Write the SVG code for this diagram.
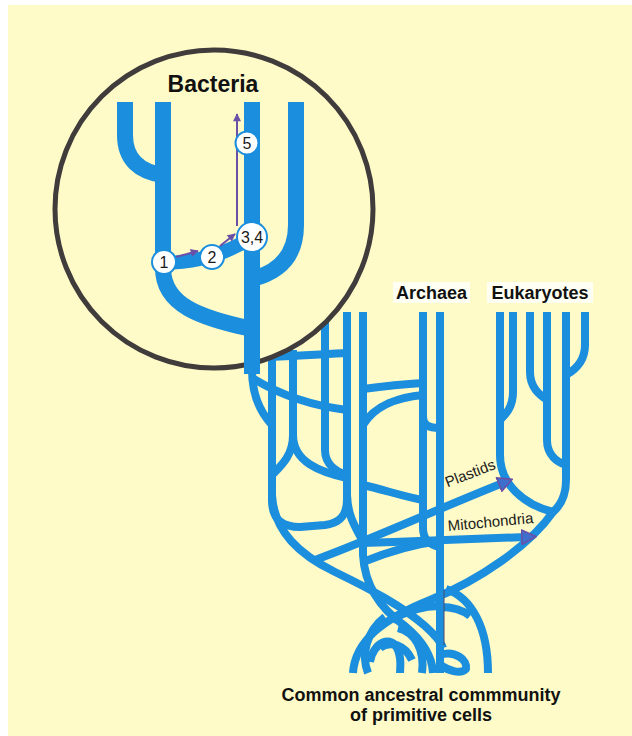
<svg xmlns="http://www.w3.org/2000/svg" width="632" height="736" viewBox="0 0 632 736">
<style>
.br{fill:none;stroke:#1b8ede;stroke-width:8;stroke-linecap:butt;stroke-linejoin:round}
.bt{fill:none;stroke:#1b8ede;stroke-width:16;stroke-linecap:butt;stroke-linejoin:round}
.pa{fill:none;stroke:#6a50a7;stroke-width:2;marker-end:url(#ah)}
.ba{marker-end:url(#bh)}
.num circle{fill:#fff;stroke:#1b8ede;stroke-width:2}
.num text{font-family:"Liberation Sans",Arial,sans-serif;font-size:16px;text-anchor:middle;fill:#1a1a1a}
.lbl{font-family:"Liberation Sans",Arial,sans-serif;font-weight:bold;font-size:18px;text-anchor:middle;fill:#111}
.arl{font-family:"Liberation Sans",Arial,sans-serif;font-size:15px;text-anchor:middle;fill:#1a1a1a}
</style>
<defs>
<marker id="ah" viewBox="0 0 10 10" refX="9" refY="5" markerWidth="9" markerHeight="8" markerUnits="userSpaceOnUse" orient="auto">
<path d="M0,0 L10,5 L0,10 Z" fill="#6a50a7"/>
</marker>
<marker id="bh" viewBox="0 0 16 16" refX="5" refY="8" markerWidth="16" markerHeight="16" markerUnits="userSpaceOnUse" orient="auto">
<path d="M0.8,0.8 L15,8 L0.8,15.2 Z" fill="#3f6fcc" stroke="#6a50a7" stroke-width="1.6" stroke-linejoin="round"/>
</marker>
</defs>
<rect x="0" y="0" width="632" height="736" fill="#ffffff"/>
<rect x="8" y="5" width="624" height="731" fill="#fffbc8"/>

<g id="main-tree">
<!-- left cluster -->
<path class="br" d="M272,350 V500 C272,522 285,527 300,527 L325,525 C340,523 347,515 347,500"/>
<path class="br" d="M347,312 V505"/>
<path class="br" d="M347,495 C348,520 358,530 363,542"/>
<path class="br" d="M270,357 C300,356 325,354 347,353"/>
<path class="br" d="M252,378 C275,392 305,405 347,410"/>
<path class="br" d="M252,370 C252,395 260,412 272,425"/>
<path class="br" d="M293,350 V435 C293,455 282,465 272,475"/>
<path class="br" d="M293,435 C293,462 320,472 347,478"/>
<path class="br" d="M325,312 V450 C325,465 337,472 347,475"/>
<path class="br" d="M272,495 C274,532 300,555 335,572 C372,590 402,606 425,626 C436,636 441,642 443,648"/>
<path class="br" d="M363,312 V555 C365,590 385,612 405,626 C422,640 432,655 433,673"/>
<!-- archaea -->
<path class="br" d="M423,312 V528 C423,540 430,545 440,547"/>
<path class="br" d="M440,312 V673"/>
<path class="br" d="M423,416 C423,425 428,428 440,428"/>
<path class="br" d="M363,389 C385,386 405,384 423,383"/>
<path class="br" d="M363,425 C375,405 400,397 423,395"/>
<path class="br" d="M363,485 C385,490 405,497 423,500"/>
<path class="br" d="M363,562 C390,551 415,544 440,541"/>
<!-- eukaryotes -->
<path class="br" d="M585,312 V345 C585,362 575,370 566,375"/>
<path class="br" d="M566,312 V480 C566,495 561,505 553,512"/>
<path class="br" d="M530,312 V372 C530,388 540,395 547,400"/>
<path class="br" d="M547,312 V440 C547,455 557,462 566,465"/>
<path class="br" d="M513,312 V392 C513,408 505,415 500,420"/>
<path class="br" d="M500,312 V455 C500,485 525,505 553,512"/>
<path class="br" d="M553,512 C530,545 480,580 430,600 C385,618 355,640 353,673"/>
<path class="br" d="M446,589 C472,598 488,628 488,673"/>
<path class="br" d="M440,607 C455,607 464,611 470,616"/>
<!-- bottom tangle -->
<path class="br" d="M385,617 C366,632 361,655 368,673"/>
<path class="br" d="M370,662 C373,642 392,634 398,650 C402,660 400,668 400,673"/>
<path class="br" d="M398,628 C415,632 425,650 422,673"/>
<path class="br" d="M392,620 C405,612 422,606 440,606"/>
<path class="br" d="M440,655 C455,650 468,660 466,669 C460,675 448,670 440,665"/>
<path class="br" d="M380,648 C390,640 405,645 412,660"/>
<line x1="444" y1="590" x2="444" y2="645" stroke="#4a4a6a" stroke-width="1"/>
<!-- plastids & mitochondria -->
<path class="br ba" d="M315,560 C370,540 440,508 503,483"/>
<path class="br ba" d="M363,543 C420,541 480,539 526,537"/>
</g>

<g id="zoom-circle">
<circle cx="214" cy="209" r="159" fill="#fffbc8" stroke="#403c3c" stroke-width="5"/>
<text x="213" y="92" style="font-family:'Liberation Sans',Arial,sans-serif;font-weight:bold;font-size:23px;text-anchor:middle;fill:#111">Bacteria</text>
</g>

<g id="bacteria-tree">
<path class="bt" d="M252,102 V374"/>
<path class="bt" d="M163,102 V268 C163,305 200,318 252,329"/>
<path class="bt" d="M125,102 V135 C125,160 140,172 163,175"/>
<path class="bt" d="M296,102 V225 C296,255 280,272 252,279"/>
<path class="bt" style="stroke-width:14" d="M163,263 Q215,262 252,237"/>
</g>

<g id="connectors">
<path class="pa" d="M176,257 L198,251"/>
<path class="pa" d="M220,246 L235,234"/>
<path class="pa" d="M237,226 V114"/>
</g>

<g id="node-5" class="num"><circle cx="247" cy="143" r="11.5"/><text x="247" y="149">5</text></g>
<g id="node-1" class="num"><circle cx="164" cy="262" r="12"/><text x="164" y="268">1</text></g>
<g id="node-2" class="num"><circle cx="212" cy="257" r="12"/><text x="212" y="263">2</text></g>
<g id="node-34" class="num"><circle cx="252" cy="237" r="15"/><text x="252" y="243">3,4</text></g>

<g id="label-archaea">
<rect x="393" y="282" width="77" height="21" fill="#fffff4"/>
<text class="lbl" x="431.5" y="299">Archaea</text>
</g>
<g id="label-eukaryotes">
<rect x="487" y="282" width="106" height="21" fill="#fffff4"/>
<text class="lbl" x="540" y="299">Eukaryotes</text>
</g>
<g id="label-plastids">
<text class="arl" transform="translate(472,478) rotate(-21)">Plastids</text>
</g>
<g id="label-mitochondria">
<text class="arl" transform="translate(491,527) rotate(-5.5)">Mitochondria</text>
</g>
<g id="label-root">
<text class="lbl" x="421" y="701">Common ancestral commmunity</text>
<text class="lbl" x="421" y="721">of primitive cells</text>
</g>
</svg>
